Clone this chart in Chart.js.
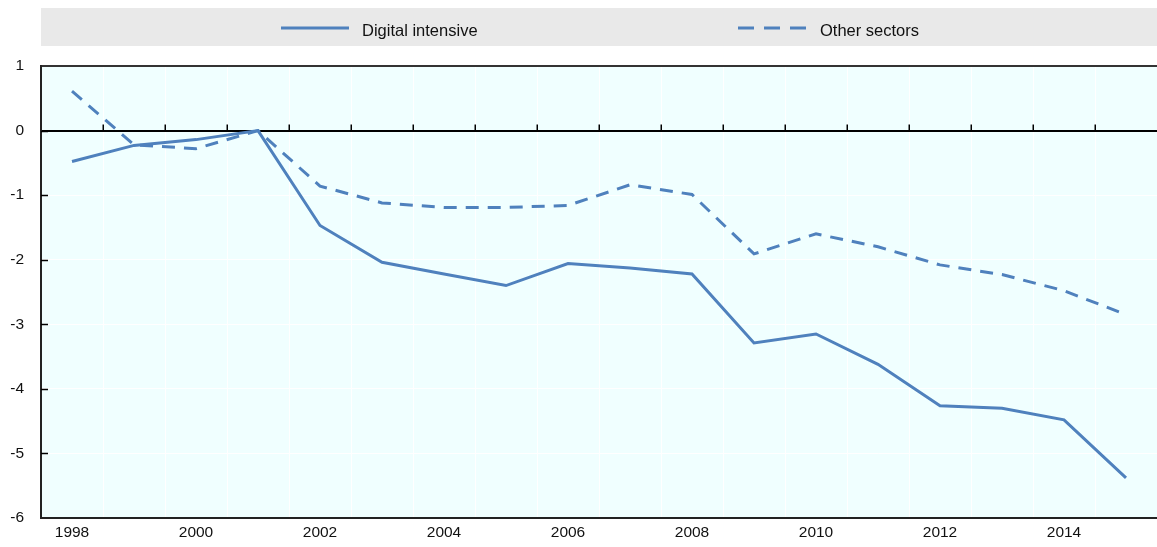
<!DOCTYPE html>
<html>
<head>
<meta charset="utf-8">
<script src="https://cdn.jsdelivr.net/npm/chart.js@4.4.1/dist/chart.umd.min.js"></script>
<style>
html,body{margin:0;padding:0;background:#ffffff;}
#wrap{width:1157px;height:547px;position:relative;}
</style>
</head>
<body>
<div id="wrap"><canvas id="c" width="1157" height="547"></canvas></div>
<script>
const years = ['1998','1999','2000','2001','2002','2003','2004','2005','2006','2007','2008','2009','2010','2011','2012','2013','2014','2015'];
const digitalIntensive = [-0.48,-0.23,-0.14,0,-1.47,-2.04,-2.22,-2.40,-2.06,-2.13,-2.22,-3.29,-3.15,-3.62,-4.26,-4.30,-4.48,-5.38];
const otherSectors = [0.61,-0.22,-0.28,0,-0.86,-1.12,-1.19,-1.19,-1.16,-0.84,-0.99,-1.91,-1.60,-1.80,-2.08,-2.23,-2.48,-2.85];
const seriesNames = ['Digital intensive','Other sectors'];
const yMin = -6, yMax = 1, yStep = 1;

const BLUE = '#4F81BD';
const FONT = 'Liberation Sans, Arial, sans-serif';

const decorPlugin = {
  id: 'decor',
  beforeDraw(chart) {
    const {ctx, chartArea: a} = chart;
    ctx.save();
    ctx.fillStyle = '#F0FFFF';
    ctx.fillRect(a.left, a.top, a.right - a.left, a.bottom - a.top);
    // legend band
    ctx.fillStyle = '#E9E9E9';
    ctx.fillRect(a.left, 8, chart.width - a.left, 38);
    ctx.restore();
  },
  afterDraw(chart) {
    const {ctx, chartArea: a, scales} = chart;
    const xs = scales.x, ys = scales.y;
    ctx.save();
    // ticks on zero line (category boundaries)
    const y0 = ys.getPixelForValue(0);
    ctx.strokeStyle = '#000';
    ctx.lineWidth = 1.5;
    for (let k = 1; k < years.length; k++) {
      const bx = (xs.getPixelForValue(k - 1) + xs.getPixelForValue(k)) / 2;
      ctx.beginPath();
      ctx.moveTo(Math.round(bx) + 0.25, y0);
      ctx.lineTo(Math.round(bx) + 0.25, y0 - 6);
      ctx.stroke();
    }
    // inward ticks on the y axis
    for (let v = yMin + 1; v < yMax; v++) {
      const yy = Math.round(ys.getPixelForValue(v)) + 0.5;
      ctx.beginPath();
      ctx.moveTo(a.left, yy);
      ctx.lineTo(a.left + 7, yy);
      ctx.stroke();
    }
    // legend
    const ds = chart.data.datasets;
    const items = [{x1: 281, x2: 349, tx: 362}, {x1: 738, x2: 806, tx: 820}];
    ctx.font = '16.5px ' + FONT;
    ctx.textBaseline = 'middle';
    ctx.textAlign = 'left';
    items.forEach((it, i) => {
      ctx.strokeStyle = ds[i].borderColor;
      ctx.lineWidth = 3;
      ctx.setLineDash(i === 1 ? [16, 10] : []);
      ctx.beginPath();
      ctx.moveTo(it.x1, 28);
      ctx.lineTo(it.x2, 28);
      ctx.stroke();
      ctx.setLineDash([]);
      ctx.fillStyle = '#111';
      ctx.fillText(ds[i].label, it.tx, 31);
    });
    ctx.restore();
  }
};

new Chart(document.getElementById('c'), {
  type: 'line',
  data: {
    labels: years,
    datasets: [
      {label: seriesNames[0], data: digitalIntensive, borderColor: BLUE, backgroundColor: BLUE,
       borderWidth: 3, pointRadius: 0, tension: 0, fill: false},
      {label: seriesNames[1], data: otherSectors, borderColor: BLUE, backgroundColor: BLUE,
       borderWidth: 3, borderDash: [13, 9], pointRadius: 0, tension: 0, fill: false}
    ]
  },
  options: {
    responsive: false,
    animation: false,
    devicePixelRatio: 1,
    layout: {padding: {top: 66, right: -5, left: 0, bottom: 0}},
    plugins: {legend: {display: false}, tooltip: {enabled: false}, title: {display: false}},
    scales: {
      x: {
        type: 'category',
        offset: true,
        grid: {offset: true, color: '#FFFFFF', lineWidth: 1, drawTicks: false},
        border: {display: true, color: '#222', width: 2},
        ticks: {
          autoSkip: false, maxRotation: 0, padding: 5,
          color: '#111', font: {family: FONT, size: 15.5},
          callback: (v, i) => (i % 2 === 0 ? years[i] : '')
        },
        afterFit: s => { s.height = 29; }
      },
      y: {
        min: yMin, max: yMax,
        grid: {
          drawTicks: false,
          color: c => (c.tick.value === 0 ? '#000' : (c.tick.value === yMax ? '#333' : '#FFFFFF')),
          lineWidth: c => (c.tick.value === 0 || c.tick.value === yMax ? 2 : 1)
        },
        border: {display: true, color: '#222', width: 2},
        ticks: {stepSize: yStep, padding: 17, color: '#111', font: {family: FONT, size: 15.5}},
        afterFit: s => { s.width = 41; }
      }
    }
  },
  plugins: [decorPlugin]
});
</script>
</body>
</html>
